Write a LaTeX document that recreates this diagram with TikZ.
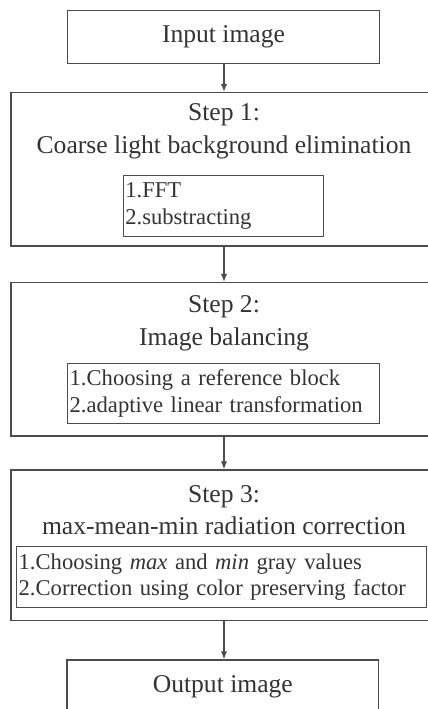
\documentclass[tikz,border=0pt]{standalone}
\usepackage{fontspec}
\setmainfont{Liberation Serif}
\usetikzlibrary{arrows.meta}
\begin{document}
\begin{tikzpicture}[
    x=1pt,
    y=-1pt,
    line width=0.7pt,
    every node/.style={text=black!80, draw=black!70, inner sep=1pt},
    iobox/.style={rectangle, minimum width=155.8pt, minimum height=26.3pt,
      font=\fontsize{12.8}{16.3}\selectfont},
    stepbox/.style={rectangle, minimum width=213pt, minimum height=#1},
    steptitle/.style={draw=none, align=center,
      font=\fontsize{12.8}{16.3}\selectfont},
    listbox/.style 2 args={rectangle, align=left, text width=#1,
      minimum height=#2, font=\fontsize{11.3}{13.35}\selectfont},
    flow/.style={draw=black!70, -{Latex[length=4pt,width=3.2pt]}}]

    % Page
    \useasboundingbox (0,0) rectangle (214,354.5);
    \clip (0,0) rectangle (214,354.5);

    % Input
    \node[iobox] (in) at (111.75, 18.5) {Input image};

    % Step 1
    \node[stepbox=76.65pt] (S1) at (112, 84.65) {};
    \node[steptitle] (T1) at (112, 65.7)
      {Step 1:\\Coarse light background elimination};
    \node[listbox={98pt}{30.5pt}] (L1) at (111.65, 103.1)
      {1.FFT\\2.substracting};

    % Step 2
    \node[stepbox=76.65pt] (S2) at (112, 179.65) {};
    \node[steptitle] (T2) at (112, 161.5) {Step 2:\\Image balancing};
    \node[listbox={153.8pt}{30pt}] (L2) at (111.75, 196.65)
      {1.Choosing a reference block\\2.adaptive linear transformation};

    % Step 3
    \node[stepbox=75.35pt] (S3) at (112, 272.7) {};
    \node[steptitle] (T3) at (112, 255)
      {Step 3:\\max-mean-min radiation correction};
    \node[listbox={203pt}{30.3pt}] (L3) at (110.85, 288.5)
      {1.Choosing \textit{max} and \textit{min} gray values\\
       2.Correction using color preserving factor};

    % Output
    \node[iobox] (out) at (111.4, 343.15) {Output image};

    % Flow
    \foreach \a/\b in {in/S1, S1/S2, S2/S3, S3/out}
      \draw[flow] (\a.south -| S1) -- (\b.north -| S1);
  \end{tikzpicture}
\end{document}
